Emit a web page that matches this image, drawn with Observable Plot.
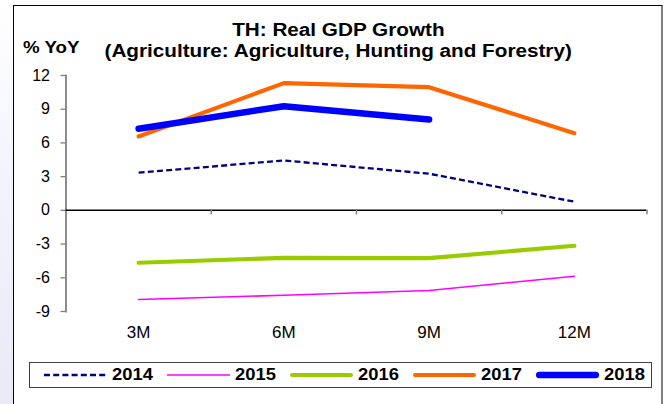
<!DOCTYPE html>
<html>
<head>
<meta charset="utf-8">
<script src="https://cdn.jsdelivr.net/npm/d3@7"></script>
<script src="https://cdn.jsdelivr.net/npm/@observablehq/plot@0.6"></script>
<style>
  html, body { margin: 0; padding: 0; }
  body {
    width: 669px; height: 404px; overflow: hidden; position: relative; background: #fff;
    font-family: "Liberation Sans", Arial, Helvetica, sans-serif;
  }
  #leftstrip {
    position: absolute; left: 0; top: 0; width: 14px; height: 404px;
    background: linear-gradient(to bottom, #ffffff 0%, #f4f5fb 40%, #e8eaf5 100%);
  }
  #frame {
    position: absolute; left: 13px; top: 5px; width: 650px; height: 430px;
    background: #fff; border-top: 1.5px solid #000; border-left: 1.5px solid #000;
    border-right: 2px solid #808080; box-sizing: border-box;
  }
  #chart { position: absolute; left: 0; top: 0; }
  .tline { position: absolute; left: 0; width: 676px; text-align: center; font-weight: bold; font-size: 18px; line-height: 20px; color: #000; }
  .tline span { display: inline-block; transform: scaleX(1.15); transform-origin: center; white-space: nowrap; }
  #yunit { position: absolute; left: 22.5px; top: 37.5px; font-weight: bold; font-size: 16px; line-height: 20px; transform: scaleX(1.17); transform-origin: left center; white-space: nowrap; }
  #legend {
    position: absolute; left: 29px; top: 362px; width: 623px; height: 26px; box-sizing: border-box;
    border: 1.5px solid #404040; display: flex; align-items: center; padding-left: 14px;
  }
  .item { display: flex; align-items: center; margin-right: 14px; }
  .item svg { display: block; }
  .item .lab { display: inline-block; width: 41px; margin-left: 5px; font-weight: bold; font-size: 17px; transform: scaleX(1.08); transform-origin: left center; white-space: nowrap; }
</style>
</head>
<body>
<div id="leftstrip"></div>
<div id="frame"></div>
<div id="chart"></div>
<div class="tline" style="top:20px"><span id="t1"></span></div>
<div class="tline" style="top:40.5px"><span id="t2"></span></div>
<div id="yunit"></div>
<div id="legend"></div>
<script>
// ---- data ----
const titleLine1 = "TH: Real GDP Growth";
const titleLine2 = "(Agriculture: Agriculture, Hunting and Forestry)";
const yUnit = "% YoY";
const periods = ["3M", "6M", "9M", "12M"];
const years = ["2014", "2015", "2016", "2017", "2018"];
const v2014 = [3.35, 4.44, 3.26, 0.77];
const v2015 = [-7.93, -7.55, -7.13, -5.86];
const v2016 = [-4.66, -4.22, -4.25, -3.15];
const v2017 = [6.58, 11.32, 10.96, 6.87];
const v2018 = [7.26, 9.27, 8.09, null];
const yTicks = [-9, -6, -3, 0, 3, 6, 9, 12];

// ---- styles ----
const styles = {
  "2014": {stroke: "#000080", strokeWidth: 2.3, strokeDasharray: "6,3.2", strokeLinecap: "butt"},
  "2015": {stroke: "#FF00FF", strokeWidth: 1.6},
  "2016": {stroke: "#99CC00", strokeWidth: 4.2},
  "2017": {stroke: "#FF6600", strokeWidth: 4.2},
  "2018": {stroke: "#0000FF", strokeWidth: 6.5}
};
const valuesByYear = {"2014": v2014, "2015": v2015, "2016": v2016, "2017": v2017, "2018": v2018};

document.getElementById("t1").textContent = titleLine1;
document.getElementById("t2").textContent = titleLine2;
document.getElementById("yunit").textContent = yUnit;

const lineMarks = years.map(yr => {
  const rows = [];
  valuesByYear[yr].forEach((v, i) => { if (v != null) rows.push({x: i + 0.5, y: v}); });
  return Plot.line(rows, {x: "x", y: "y", strokeLinejoin: "round", strokeLinecap: "round", ...styles[yr]});
});

const chart = Plot.plot({
  width: 669, height: 351,
  marginLeft: 65.5, marginRight: 22.5, marginTop: 75, marginBottom: 40,
  style: {background: "transparent", fontFamily: "'Liberation Sans', Arial, sans-serif", overflow: "visible", color: "#000"},
  x: {type: "linear", domain: [0, periods.length], axis: null},
  y: {domain: [-9, 12], axis: null},
  marks: [
    Plot.axisY(yTicks, {label: null, tickSize: 5, tickPadding: 11, stroke: "#808080", fill: "#000", fontSize: 16, fontWeight: "normal", strokeWidth: 1.3, tickFormat: d => String(d)}),
    Plot.axisX(periods.map((_, i) => i + 0.5), {label: null, anchor: "bottom", tickSize: 0, tickPadding: 14, fontSize: 17, fontWeight: "normal", fill: "#000", tickFormat: d => periods[d - 0.5]}),
    Plot.frame({anchor: "left", stroke: "#808080", strokeWidth: 1.8}),
    Plot.ruleY([0], {stroke: "#000", strokeWidth: 1.5}),
    Plot.ruleX(d3.range(1, periods.length + 1), {y1: 0, y2: 0, insetBottom: -4.5, stroke: "#808080", strokeWidth: 1.5}),
    ...lineMarks
  ]
});
document.getElementById("chart").appendChild(chart);

// ---- legend ----
const legend = d3.select("#legend");
years.forEach(yr => {
  const s = styles[yr];
  const item = legend.append("div").attr("class", "item");
  const svg = item.append("svg").attr("width", 63).attr("height", 10);
  svg.append("line")
    .attr("x1", s.strokeWidth > 3 ? s.strokeWidth / 2 : 0).attr("x2", s.strokeWidth > 3 ? 63 - s.strokeWidth / 2 : 63)
    .attr("y1", 5).attr("y2", 5)
    .attr("stroke", s.stroke).attr("stroke-width", s.strokeWidth)
    .attr("stroke-dasharray", s.strokeDasharray || null)
    .attr("stroke-linecap", s.strokeLinecap || "round");
  item.append("span").attr("class", "lab").text(yr);
});
</script>
</body>
</html>
